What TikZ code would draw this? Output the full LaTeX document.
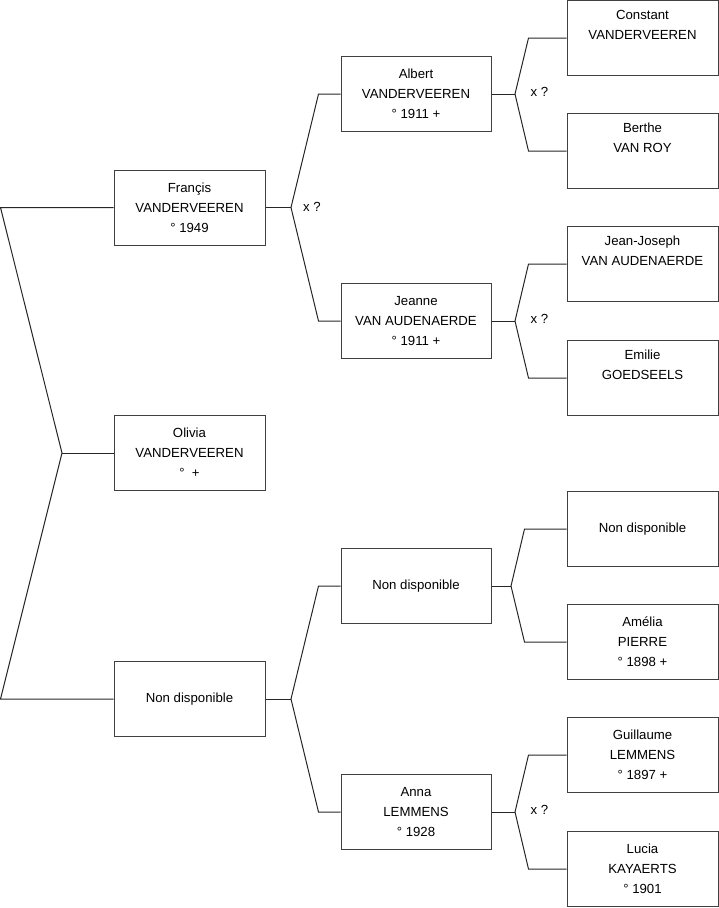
\documentclass[tikz,border=0pt]{standalone}
\usepackage{fontspec}
\setmainfont{Liberation Sans}
\begin{document}
\begin{tikzpicture}[x=1pt,y=-1pt,
  person/.style={draw=black!75, line width=1pt, rectangle, minimum width=151pt, minimum height=75pt,
    inner sep=0pt, align=center, font=\fontsize{13.2}{20}\selectfont},
  link/.style={draw=black!85, line width=1pt},
  lbl/.style={font=\fontsize{13.2}{15}\selectfont, inner sep=0pt}]
\useasboundingbox (0,0) rectangle (719,908);
% column 1
\node[person] (F) at (189.5,207.5) {Françis\\VANDERVEEREN\\° 1949};
\node[person] (O) at (189.5,453) {Olivia\\VANDERVEEREN\\°\ \ +};
\node[person] (N1) at (189.5,699) {Non disponible};
% column 2
\node[person, minimum width=150pt] (A) at (416,94) {Albert\\VANDERVEEREN\\° 1911 +};
\node[person, minimum width=150pt] (J) at (416,321) {Jeanne\\VAN AUDENAERDE\\° 1911 +};
\node[person, minimum width=150pt] (N2) at (416,586) {Non disponible};
\node[person, minimum width=150pt] (An) at (416,812) {Anna\\LEMMENS\\° 1928};
% column 3
\node[person] (C) at (642.5,38) {Constant\\VANDERVEEREN\\\strut};
\node[person] (B) at (642.5,151) {Berthe\\VAN ROY\\\strut};
\node[person] (JJ) at (642.5,264) {Jean-Joseph\\VAN AUDENAERDE\\\strut};
\node[person] (E) at (642.5,378) {Emilie\\GOEDSEELS\\\strut};
\node[person] (N3) at (642.5,529) {Non disponible};
\node[person] (Am) at (642.5,642) {Amélia\\PIERRE\\° 1898 +};
\node[person] (G) at (642.5,755) {Guillaume\\LEMMENS\\° 1897 +};
\node[person] (L) at (642.5,869) {Lucia\\KAYAERTS\\° 1901};
% level 1 fork
\coordinate (t0) at (0.5,207.5);
\coordinate (b0) at (0.5,699);
\coordinate (v0) at (62,453);
\draw[link] (F.west) -- (t0) -- (v0) -- (b0) -- (N1.west);
\draw[link] (v0) -- (O.west);
% level 2 forks
\coordinate (v1) at (291,207.5);
\draw[link] (F.east) -- (v1);
\draw[link] (A.west) -- ++(-22,0) -- (v1) -- ([xshift=-22pt]J.west) -- (J.west);
\node[lbl] (x1) at (312,207) {x ?};
\coordinate (v2) at (291,699);
\draw[link] (N1.east) -- (v2);
\draw[link] (N2.west) -- ++(-22,0) -- (v2) -- ([xshift=-22pt]An.west) -- (An.west);
% level 3 forks
\coordinate (v3) at (515,94);
\draw[link] (A.east) -- (v3);
\draw[link] (C.west) -- ++(-38,0) -- (v3) -- ([xshift=-38pt]B.west) -- (B.west);
\node[lbl] (x2) at (539.5,92) {x ?};
\coordinate (v4) at (515,321);
\draw[link] (J.east) -- (v4);
\draw[link] (JJ.west) -- ++(-38,0) -- (v4) -- ([xshift=-38pt]E.west) -- (E.west);
\node[lbl] (x3) at (539.5,319) {x ?};
\coordinate (v5) at (511,586);
\draw[link] (N2.east) -- (v5);
\draw[link] (N3.west) -- ++(-42,0) -- (v5) -- ([xshift=-42pt]Am.west) -- (Am.west);
\coordinate (v6) at (515,812);
\draw[link] (An.east) -- (v6);
\draw[link] (G.west) -- ++(-38,0) -- (v6) -- ([xshift=-38pt]L.west) -- (L.west);
\node[lbl] (x4) at (539.5,810) {x ?};
\end{tikzpicture}
\end{document}
